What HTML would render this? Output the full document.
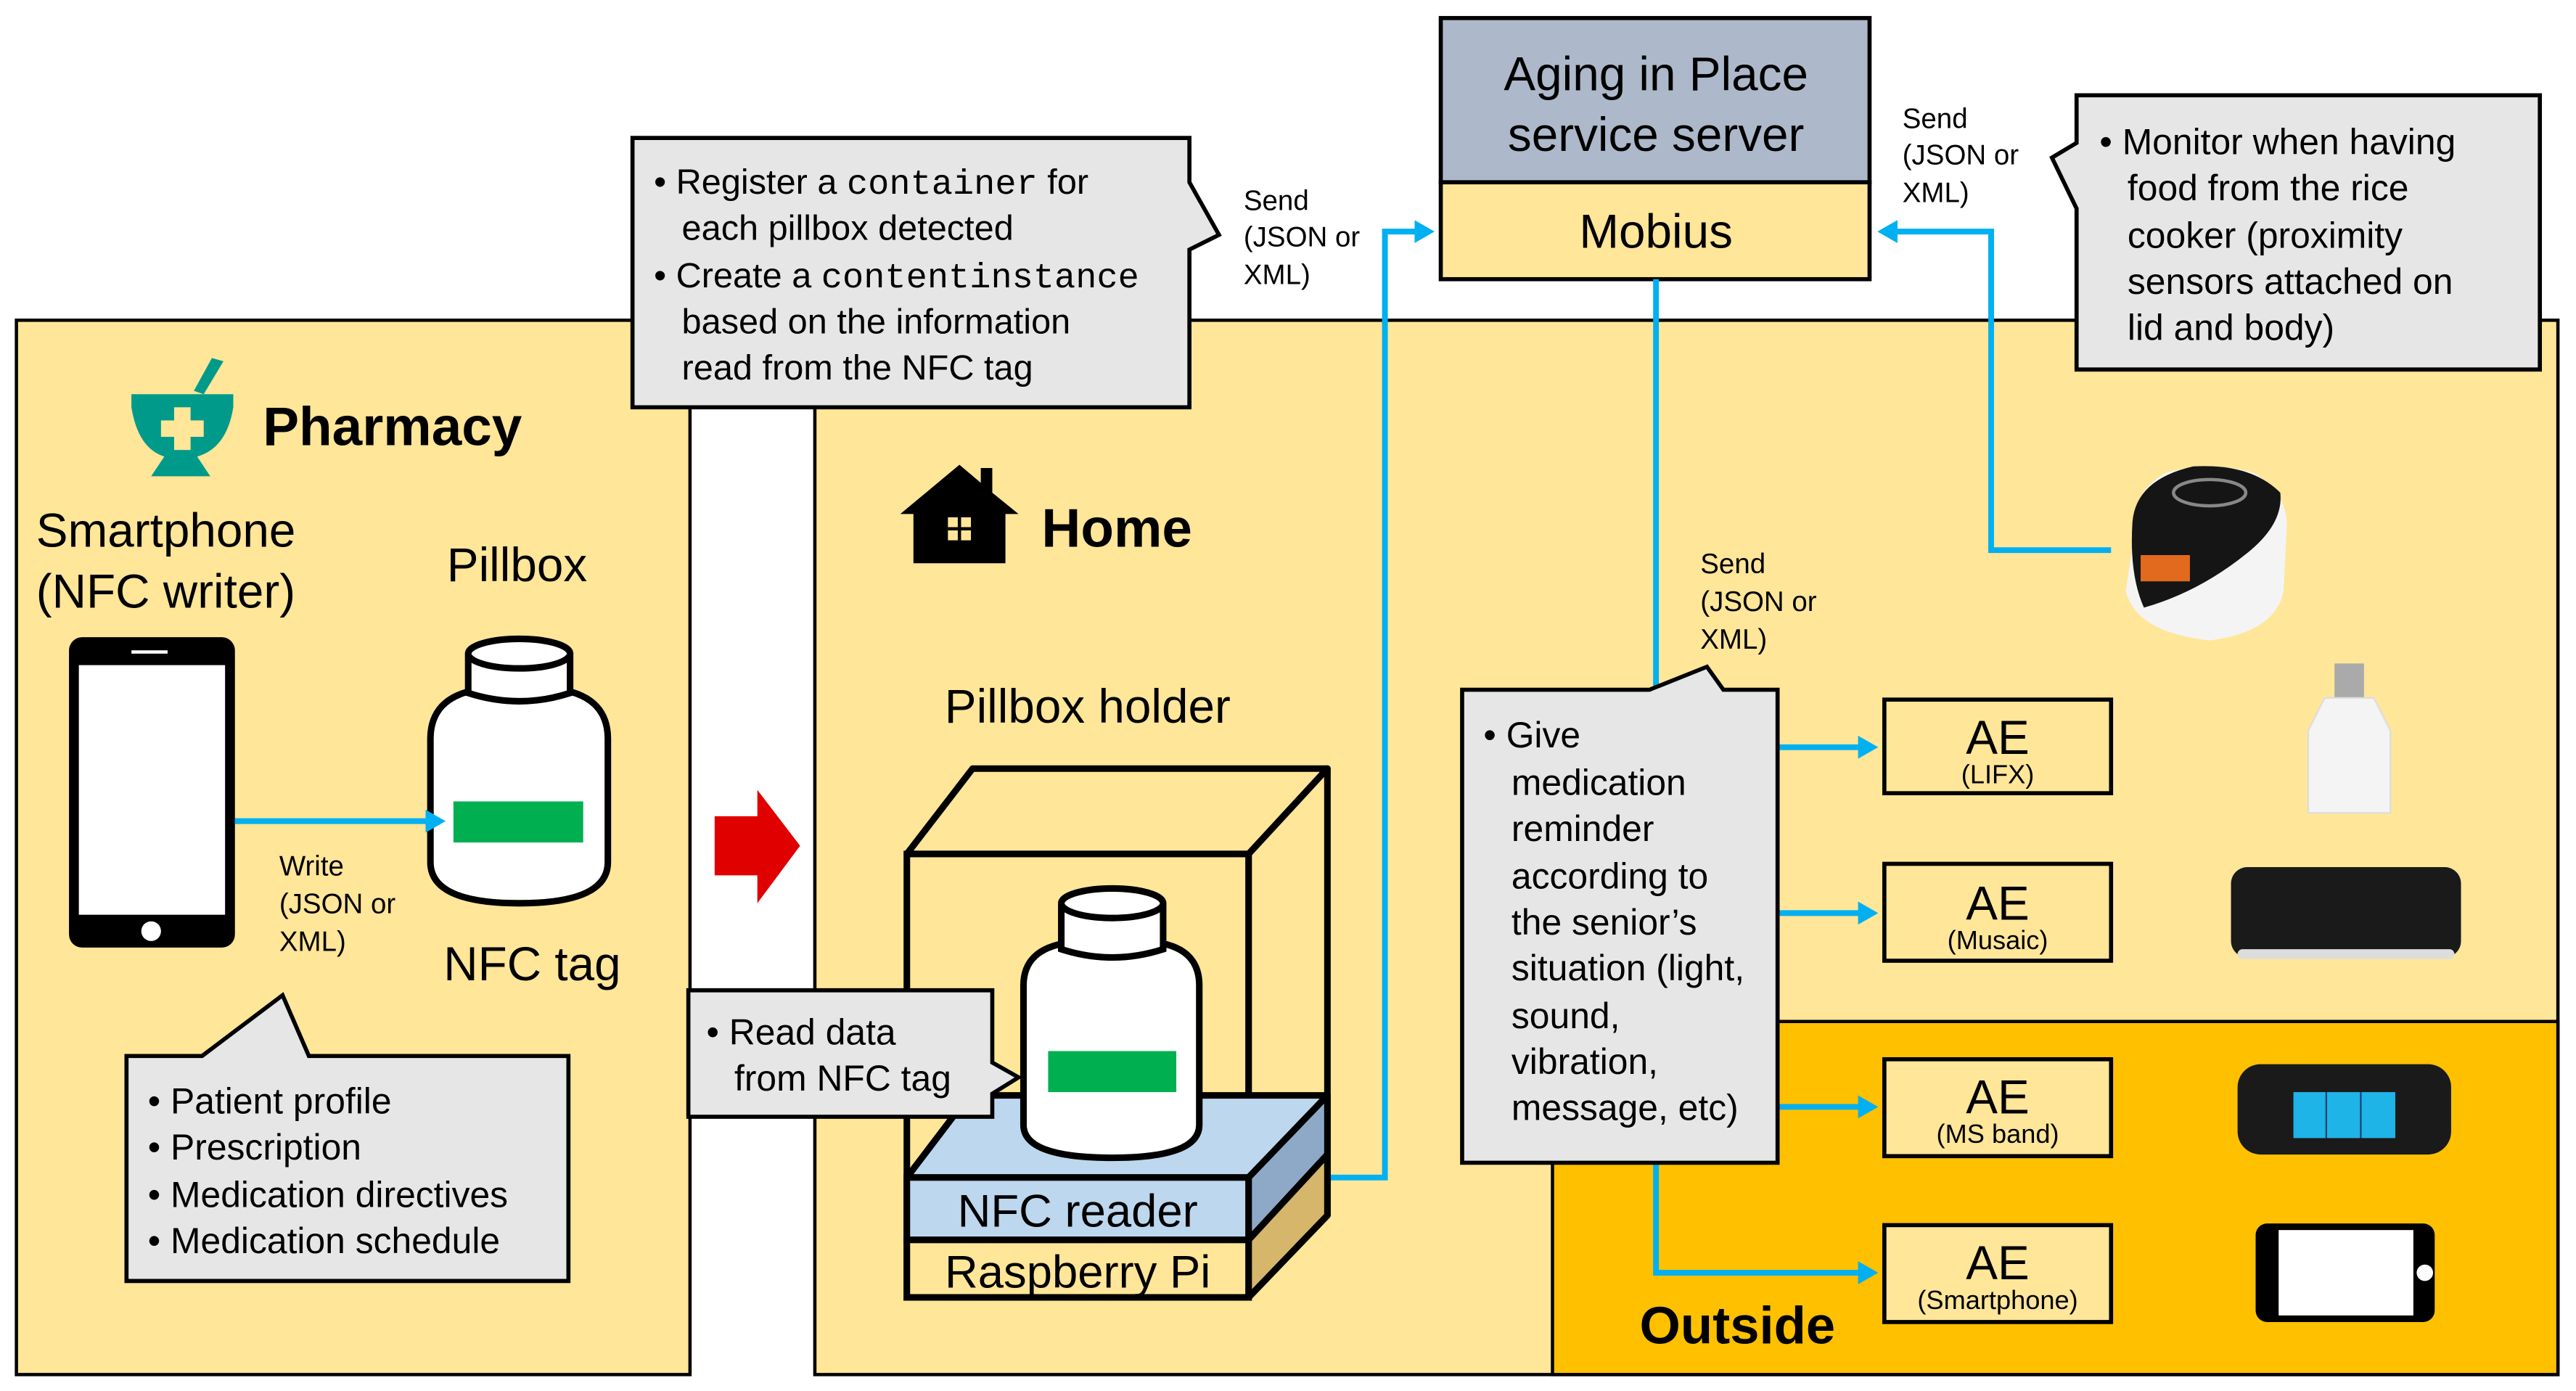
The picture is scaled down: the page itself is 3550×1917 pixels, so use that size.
<!DOCTYPE html>
<html><head><meta charset="utf-8"><style>
html,body{margin:0;padding:0;background:#fff}
svg{display:block}
text{font-family:"Liberation Sans",Arial,sans-serif;fill:#000}
</style></head><body>
<svg width="3550" height="1917" viewBox="0 0 1568 847" preserveAspectRatio="none" xmlns="http://www.w3.org/2000/svg">
<defs>
<marker id="ah" markerWidth="3.5" markerHeight="4" refX="2" refY="2" orient="auto" markerUnits="strokeWidth"><path d="M0,0 L3.5,2 L0,4 Z" fill="#00B0F0"/></marker>
</defs>
<rect x="10" y="195" width="410" height="642" fill="#FFE699" stroke="#000" stroke-width="2"/>
<rect x="496" y="195" width="1061" height="642" fill="#FFE699" stroke="#000" stroke-width="2"/>
<rect x="945" y="622" width="612" height="215" fill="#FFC000" stroke="#000" stroke-width="2"/>

<rect x="877" y="11" width="261" height="100" fill="#ADB9CA" stroke="#000" stroke-width="2.5"/>
<rect x="877" y="111" width="261" height="59" fill="#FFE699" stroke="#000" stroke-width="2.5"/>
<text x="1008" y="55" font-size="29" text-anchor="middle">Aging in Place</text>
<text x="1008" y="92" font-size="29" text-anchor="middle">service server</text>
<text x="1008" y="151" font-size="29" text-anchor="middle">Mobius</text>

<g stroke="#00B0F0" stroke-width="3.5" fill="none">
<polyline points="810,717 843,717 843,141 868,141" marker-end="url(#ah)"/>
<polyline points="1285,335 1212,335 1212,141 1148,141" marker-end="url(#ah)"/>
<line x1="1008" y1="170" x2="1008" y2="420"/>
<line x1="1082" y1="455" x2="1138" y2="455" marker-end="url(#ah)"/>
<line x1="1082" y1="556" x2="1138" y2="556" marker-end="url(#ah)"/>
<line x1="1082" y1="674" x2="1138" y2="674" marker-end="url(#ah)"/>
<polyline points="1008,708 1008,775 1138,775" marker-end="url(#ah)"/>
</g>

<g font-size="17">
<text x="757" y="128">Send</text><text x="757" y="150">(JSON or</text><text x="757" y="173">XML)</text>
<text x="1158" y="78">Send</text><text x="1158" y="100">(JSON or</text><text x="1158" y="123">XML)</text>
<text x="1035" y="349">Send</text><text x="1035" y="372">(JSON or</text><text x="1035" y="395">XML)</text>
</g>

<path d="M385,84 L724,84 L724,111 L742,143 L724,152 L724,248 L385,248 Z" fill="#E7E6E6" stroke="#000" stroke-width="2.5"/>
<g font-size="21.5">
<text x="398" y="118">• Register a <tspan font-family="Liberation Mono,monospace">container</tspan> for</text>
<text x="415" y="146">each pillbox detected</text>
<text x="398" y="175">• Create a <tspan font-family="Liberation Mono,monospace">contentinstance</tspan></text>
<text x="415" y="203">based on the information</text>
<text x="415" y="231">read from the NFC tag</text>
</g>

<path d="M1264,58 L1546,58 L1546,225 L1264,225 L1264,127 L1249,96 L1264,87 Z" fill="#E7E6E6" stroke="#000" stroke-width="2.5"/>
<g font-size="22">
<text x="1278" y="94">• Monitor when having</text>
<text x="1295" y="122">food from the rice</text>
<text x="1295" y="151">cooker (proximity</text>
<text x="1295" y="179">sensors attached on</text>
<text x="1295" y="207">lid and body)</text>
</g>

<path d="M890,420 L1004,420 L1039,406 L1049,420 L1082,420 L1082,708 L890,708 Z" fill="#E7E6E6" stroke="#000" stroke-width="2.5"/>
<g font-size="22">
<text x="903" y="455">• Give</text>
<text x="920" y="484">medication</text>
<text x="920" y="512">reminder</text>
<text x="920" y="541">according to</text>
<text x="920" y="569">the senior’s</text>
<text x="920" y="597">situation (light,</text>
<text x="920" y="626">sound,</text>
<text x="920" y="654">vibration,</text>
<text x="920" y="682">message, etc)</text>
</g>

<g stroke="#000" stroke-width="2.5" fill="#FFE699">
<rect x="1147" y="426" width="138" height="57"/>
<rect x="1147" y="526" width="138" height="59"/>
<rect x="1147" y="645" width="138" height="59"/>
<rect x="1147" y="746" width="138" height="59"/>
</g>
<g text-anchor="middle">
<text x="1216" y="459" font-size="29">AE</text><text x="1216" y="477" font-size="16">(LIFX)</text>
<text x="1216" y="560" font-size="29">AE</text><text x="1216" y="578" font-size="16">(Musaic)</text>
<text x="1216" y="678" font-size="29">AE</text><text x="1216" y="696" font-size="16">(MS band)</text>
<text x="1216" y="779" font-size="29">AE</text><text x="1216" y="797" font-size="16">(Smartphone)</text>
</g>
<text x="998" y="818" font-size="32" font-weight="bold">Outside</text>

<!-- rice cooker -->
<path d="M1300,318 Q1298,300 1318,288 Q1345,280 1372,288 Q1392,300 1392,320 L1390,360 Q1385,385 1345,390 Q1300,385 1294,360 Z" fill="#f4f4f4"/>
<path d="M1298,318 Q1300,292 1335,284 Q1370,282 1388,300 Q1390,318 1370,335 Q1340,360 1305,370 Q1296,350 1298,318 Z" fill="#151515"/>
<rect x="1303" y="338" width="30" height="16" fill="#E26A1E"/>
<ellipse cx="1345" cy="300" rx="22" ry="8" fill="none" stroke="#888" stroke-width="2"/>
<!-- bulb -->
<rect x="1421" y="404" width="18" height="22" fill="#aaa"/>
<path d="M1415,425 L1445,425 L1455,445 L1455,495 L1405,495 L1405,445 Z" fill="#f4f4f4" stroke="#ddd"/>
<!-- speaker -->
<rect x="1358" y="528" width="140" height="55" rx="10" fill="#1a1a1a"/>
<rect x="1362" y="578" width="132" height="6" rx="3" fill="#ddd"/>
<!-- band -->
<rect x="1362" y="648" width="130" height="55" rx="14" fill="#1a1a1a"/>
<rect x="1396" y="665" width="62" height="28" fill="#1FB4E8"/>
<line x1="1416" y1="665" x2="1416" y2="693" stroke="#147" stroke-width="1"/>
<line x1="1437" y1="665" x2="1437" y2="693" stroke="#147" stroke-width="1"/>
<!-- phone landscape -->
<rect x="1373" y="745" width="109" height="60" rx="7" fill="#000"/>
<rect x="1387" y="749" width="82" height="52" fill="#fff"/>
<circle cx="1476" cy="775" r="5" fill="#fff"/>

<g transform="translate(80,218)">
<path d="M49,0 L56,2 L44,22 L38,20 Z" fill="#009A8A"/>
<path d="M0,22 L62,22 L62,30 Q58,55 40,60 L48,72 L12,72 L20,60 Q4,55 0,30 Z" fill="#009A8A"/>
<rect x="26" y="30" width="10" height="26" fill="#FFE699"/>
<rect x="18" y="38" width="26" height="10" fill="#FFE699"/>
</g>
<text x="160" y="271" font-size="33" font-weight="bold">Pharmacy</text>
<text x="22" y="333" font-size="29">Smartphone</text>
<text x="22" y="370" font-size="29">(NFC writer)</text>
<text x="272" y="354" font-size="29">Pillbox</text>
<rect x="42" y="388" width="101" height="189" rx="8" fill="#000"/>
<rect x="48" y="405" width="89" height="152" fill="#fff"/>
<circle cx="92" cy="567" r="6" fill="#fff"/>
<rect x="80" y="396" width="22" height="2" fill="#fff"/>
<path d="M262,450 Q262,425 290,420 L342,420 Q370,425 370,450 L370,525 Q370,550 316,550 Q262,550 262,525 Z" fill="#fff" stroke="#000" stroke-width="4"/>
<path d="M285,398 L285,422 Q316,432 347,422 L347,398" fill="#fff" stroke="#000" stroke-width="4"/>
<ellipse cx="316" cy="398" rx="31" ry="9" fill="#fff" stroke="#000" stroke-width="4"/>
<rect x="276" y="488" width="79" height="25" fill="#00B050"/>
<line x1="143" y1="500" x2="266" y2="500" stroke="#00B0F0" stroke-width="3.5" marker-end="url(#ah)"/>
<g font-size="17"><text x="170" y="533">Write</text><text x="170" y="556">(JSON or</text><text x="170" y="579">XML)</text></g>
<text x="270" y="597" font-size="29">NFC tag</text>
<path d="M77,643 L123,643 L172,606 L188,643 L346,643 L346,780 L77,780 Z" fill="#E7E6E6" stroke="#000" stroke-width="2.5"/>
<g font-size="22">
<text x="90" y="678">• Patient profile</text>
<text x="90" y="706">• Prescription</text>
<text x="90" y="735">• Medication directives</text>
<text x="90" y="763">• Medication schedule</text>
</g>

<path d="M435,497 L461,497 L461,481 L487,515 L461,550 L461,533 L435,533 Z" fill="#E00000"/>

<path d="M548,313 L584,283 L597,294 L597,285 L604,285 L604,300 L620,313 L612,313 L612,343 L556,343 L556,313 Z" fill="#000"/>
<rect x="577" y="315" width="14" height="14" fill="#FFE699"/>
<line x1="584" y1="315" x2="584" y2="329" stroke="#000" stroke-width="2"/>
<line x1="577" y1="322" x2="591" y2="322" stroke="#000" stroke-width="2"/>
<text x="634" y="333" font-size="33" font-weight="bold">Home</text>
<text x="575" y="440" font-size="29">Pillbox holder</text>

<polygon points="552,520 592,468 808,468 760,520" fill="#FFE699" stroke="#000" stroke-width="4" stroke-linejoin="round"/>
<polygon points="760,520 808,468 808,740 760,790" fill="#FFE699" stroke="#000" stroke-width="4" stroke-linejoin="round"/>
<rect x="552" y="520" width="208" height="270" fill="#FFE699" stroke="#000" stroke-width="4"/>
<polygon points="552,717 590,667 808,667 760,717" fill="#BDD7EE" stroke="#000" stroke-width="4" stroke-linejoin="round"/>
<polygon points="760,717 808,667 808,703 760,755" fill="#8EA9C8" stroke="#000" stroke-width="4" stroke-linejoin="round"/>
<polygon points="760,755 808,703 808,740 760,790" fill="#D6B66A" stroke="#000" stroke-width="4" stroke-linejoin="round"/>
<rect x="552" y="717" width="208" height="38" fill="#BDD7EE" stroke="#000" stroke-width="4"/>
<rect x="552" y="755" width="208" height="35" fill="#FFE699" stroke="#000" stroke-width="4"/>
<text x="656" y="747" font-size="28" text-anchor="middle">NFC reader</text>
<text x="656" y="784" font-size="28" text-anchor="middle">Raspberry Pi</text>
<path d="M623,600 Q623,578 650,574 L705,574 Q730,578 730,600 L730,685 Q730,705 677,705 Q623,705 623,685 Z" fill="#fff" stroke="#000" stroke-width="4"/>
<path d="M646,550 L646,578 Q677,588 708,578 L708,550" fill="#fff" stroke="#000" stroke-width="4"/>
<ellipse cx="677" cy="550" rx="31" ry="9" fill="#fff" stroke="#000" stroke-width="4"/>
<rect x="638" y="640" width="78" height="25" fill="#00B050"/>
<path d="M419,603 L604,603 L604,647 L620,656 L604,666 L604,680 L419,680 Z" fill="#E7E6E6" stroke="#000" stroke-width="2.5"/>
<g font-size="22">
<text x="430" y="636">• Read data</text>
<text x="447" y="664">from NFC tag</text>
</g>
</svg>
</body></html>
